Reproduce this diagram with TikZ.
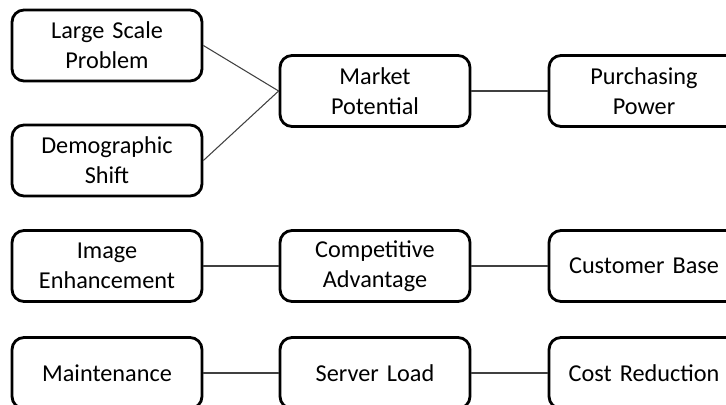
\documentclass[tikz,border=0pt]{standalone}
\usepackage{fontspec}
\setmainfont{Carlito}
\usepackage{tikz}

\begin{document}
\begin{tikzpicture}[x=0.02cm,y=-0.02cm,font=\fontsize{13.8}{17}\selectfont,
   factor/.style={draw,line width=1.6pt,rounded corners=0.24cm,minimum width=3.8cm,
     minimum height=1.42cm,text width=3.6cm,align=center,inner sep=0pt},
   link/.style={draw=black!75,line width=0.6pt}]
% page frame; the right column runs off the edge
\path[use as bounding box,clip] (0,0) rectangle (726,405);
% top group
\node[factor] (scale)  at (107,45.5) {Large Scale\\Problem};
\node[factor] (demo)   at (107,160.5) {Demographic\\Shift};
\node[factor] (market) at (375,91) {Market\\Potential};
\node[factor] (power)  at (644,91) {Purchasing\\Power};
% middle row
\node[factor] (image)  at (107,266) {Image\\Enhancement};
\node[factor] (compet) at (375,266) {Competitive\\Advantage};
\node[factor] (cust)   at (644,266) {Customer Base};
% bottom row
\node[factor] (maint)  at (107,373) {Maintenance};
\node[factor] (server) at (375,373) {Server Load};
\node[factor] (cost)   at (644,373) {Cost Reduction};
\draw[link] (scale.east) -- (market.west);
\draw[link] (demo.east) -- (market.west);
\foreach \a/\b in {market/power,image/compet,compet/cust,maint/server,server/cost}
  \draw[link] (\a) -- (\b);
\end{tikzpicture}
\end{document}
